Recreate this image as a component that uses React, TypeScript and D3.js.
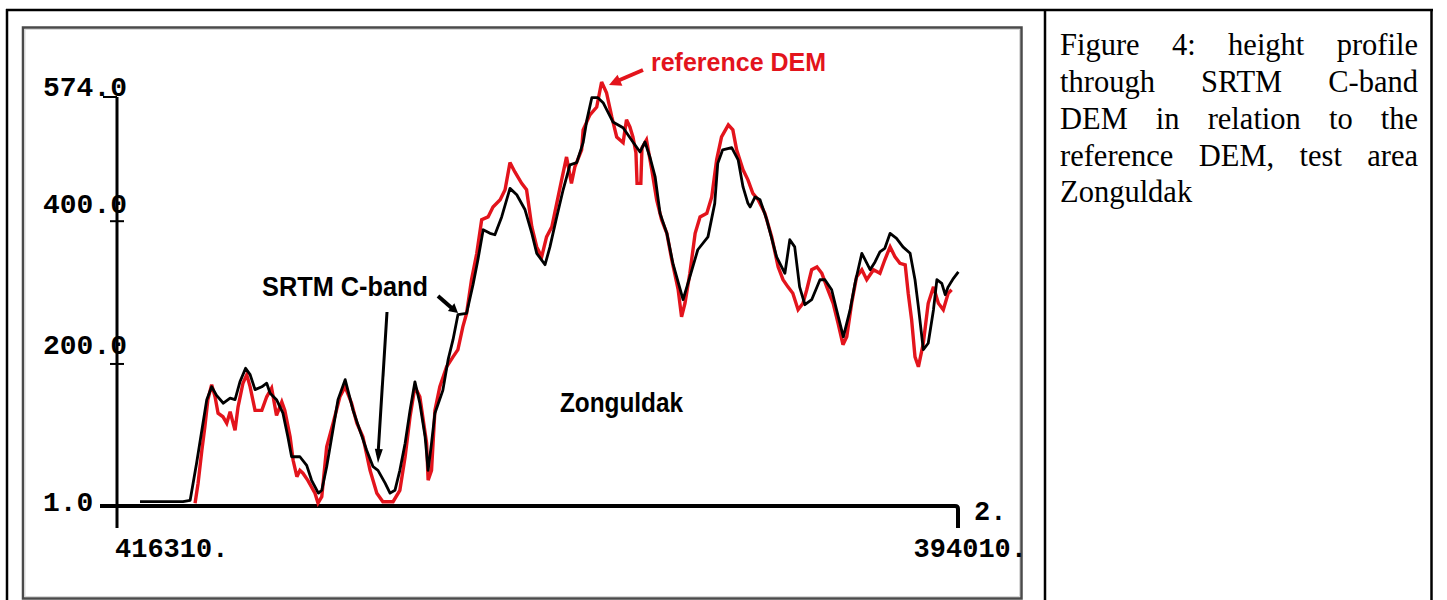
import React from "react";
import * as d3 from "d3";

// distance along profile (km) and height (m)
const srtmProfile: [number, number][] = [
  [0.61, 7], [1.75, 7], [1.94, 9], [2.11, 61], [2.25, 107], [2.38, 150], [2.51, 168], [2.64, 156], [2.82, 145],
  [3.0, 152], [3.13, 150], [3.26, 175], [3.41, 194], [3.53, 185], [3.66, 164], [3.84, 168], [3.97, 173], [4.06, 159],
  [4.23, 150], [4.4, 131], [4.53, 98], [4.63, 70], [4.85, 70], [5.03, 58], [5.16, 37], [5.34, 19], [5.43, 23],
  [5.56, 56], [5.74, 112], [5.86, 150], [6.05, 178], [6.26, 135], [6.44, 107], [6.62, 79], [6.79, 56], [6.92, 51],
  [7.11, 33], [7.24, 19], [7.37, 23], [7.5, 51], [7.64, 89], [7.77, 135], [7.9, 175], [8.03, 145], [8.17, 98],
  [8.25, 51], [8.34, 89], [8.43, 131], [8.64, 163], [8.78, 206], [8.91, 234], [9.04, 269], [9.27, 271], [9.44, 311],
  [9.57, 346], [9.71, 388], [9.89, 383], [10.02, 381], [10.2, 406], [10.42, 446], [10.6, 437], [10.82, 416],
  [11.0, 383], [11.13, 355], [11.35, 339], [11.48, 364], [11.66, 406], [11.83, 444], [12.01, 479], [12.19, 482],
  [12.36, 510], [12.46, 542], [12.59, 573], [12.75, 573], [12.89, 566], [13.15, 539], [13.42, 531], [13.68, 511],
  [13.87, 497], [14.0, 511], [14.13, 490], [14.27, 462], [14.4, 411], [14.58, 383], [14.74, 341], [15.01, 290],
  [15.19, 322], [15.4, 360], [15.67, 378], [15.85, 425], [15.93, 481], [16.06, 500], [16.3, 503], [16.47, 486],
  [16.6, 448], [16.73, 425], [16.79, 420], [16.92, 434], [17.05, 430], [17.23, 402], [17.49, 350], [17.71, 327],
  [17.84, 374], [17.97, 364], [18.1, 308], [18.24, 283], [18.42, 290], [18.64, 318], [18.77, 318], [18.95, 304],
  [19.08, 276], [19.26, 238], [19.44, 276], [19.57, 313], [19.75, 355], [19.97, 332], [20.1, 343], [20.23, 357],
  [20.36, 362], [20.5, 383], [20.67, 376], [20.84, 364], [21.03, 355], [21.16, 318], [21.25, 280], [21.38, 220],
  [21.51, 229], [21.65, 276], [21.74, 318], [21.87, 313], [21.96, 297], [22.04, 308], [22.18, 320], [22.31, 329],
];

const referenceProfile: [number, number][] = [
  [2.07, 5], [2.15, 33], [2.25, 79], [2.33, 112], [2.41, 150], [2.51, 171], [2.6, 154], [2.68, 131], [2.81, 126],
  [2.91, 117], [3.0, 133], [3.13, 107], [3.21, 140], [3.34, 173], [3.44, 185], [3.53, 168], [3.66, 135], [3.84, 135],
  [3.97, 154], [4.1, 166], [4.23, 128], [4.37, 147], [4.45, 135], [4.59, 98], [4.67, 65], [4.77, 42], [4.85, 51],
  [4.93, 47], [5.06, 37], [5.25, 19], [5.33, 5], [5.43, 14], [5.56, 84], [5.73, 117], [5.91, 154], [6.05, 168],
  [6.22, 145], [6.36, 117], [6.52, 98], [6.71, 51], [6.89, 19], [7.05, 7], [7.32, 7], [7.5, 23], [7.64, 70],
  [7.77, 126], [7.9, 168], [8.03, 154], [8.21, 89], [8.25, 37], [8.34, 51], [8.43, 135], [8.56, 168], [8.74, 196],
  [8.91, 210], [9.04, 220], [9.17, 252], [9.27, 271], [9.4, 318], [9.54, 355], [9.67, 402], [9.84, 406], [9.97, 420],
  [10.16, 430], [10.29, 444], [10.42, 482], [10.55, 469], [10.73, 453], [10.86, 444], [11.0, 392], [11.13, 364],
  [11.26, 350], [11.39, 378], [11.53, 392], [11.66, 425], [11.79, 458], [11.92, 490], [12.05, 453], [12.14, 476],
  [12.32, 500], [12.36, 528], [12.54, 549], [12.72, 560], [12.85, 595], [12.98, 580], [13.12, 546], [13.25, 518],
  [13.42, 510], [13.51, 542], [13.6, 532], [13.68, 518], [13.76, 496], [13.79, 453], [13.89, 453], [13.92, 503],
  [14.04, 514], [14.18, 472], [14.31, 430], [14.44, 402], [14.58, 383], [14.71, 346], [14.88, 304], [14.97, 266],
  [15.06, 285], [15.19, 327], [15.33, 383], [15.46, 406], [15.64, 411], [15.77, 434], [15.9, 486], [16.03, 518],
  [16.21, 535], [16.33, 528], [16.43, 500], [16.6, 472], [16.73, 458], [16.86, 439], [17.0, 430], [17.18, 411],
  [17.36, 378], [17.53, 336], [17.66, 318], [17.79, 308], [17.92, 299], [18.06, 276], [18.19, 285], [18.29, 304],
  [18.42, 332], [18.56, 336], [18.69, 327], [18.82, 308], [18.99, 285], [19.12, 257], [19.25, 227], [19.35, 238],
  [19.48, 285], [19.61, 322], [19.75, 332], [19.88, 318], [20.06, 332], [20.23, 327], [20.36, 346], [20.5, 364],
  [20.63, 350], [20.76, 341], [20.9, 339], [20.98, 299], [21.07, 262], [21.16, 210], [21.25, 196], [21.38, 229],
  [21.51, 285], [21.65, 308], [21.78, 285], [21.91, 276], [22.04, 299], [22.13, 304],
];

const yTicks = [1, 200, 400, 574];
const xEastings = [416310, 394010];
const xEndLabel = "2.";
const captionLines = [
  "Figure 4: height profile",
  "through SRTM C-band",
  "DEM in relation to the",
  "reference DEM, test area",
  "Zonguldak",
];

const RED = "#e3141c";

function arrowHead(x1: number, y1: number, x2: number, y2: number, len: number, half: number) {
  const a = Math.atan2(y2 - y1, x2 - x1);
  const bx = x2 - len * Math.cos(a);
  const by = y2 - len * Math.sin(a);
  const px = -Math.sin(a) * half;
  const py = Math.cos(a) * half;
  return `M${x2},${y2}L${bx + px},${by + py}L${bx - px},${by - py}Z`;
}

export default function App() {
  const startEasting = xEastings[0];
  const kmOf = (e: number) => (startEasting - e) / 1000;
  const x = d3.scaleLinear().domain([0, kmOf(xEastings[1])]).range([117, 958]);
  const y = d3.scaleLinear().domain([1, 574]).range([506, 97]);

  const lineLin = d3.line<[number, number]>().x((d) => x(d[0])).y((d) => y(d[1]));

  const x0 = x(0);
  const xEnd = x(kmOf(xEastings[1]));
  const yBase = y(1);

  const mono = "'Liberation Mono', 'DejaVu Sans Mono', monospace";
  const sans = "'Liberation Sans', Arial, sans-serif";

  const yLabelDy: Record<number, number> = { 1: 5, 200: -10, 400: -8, 574: -1 };

  // annotations
  const redTip: [number, number] = [609, 85];
  const redTail: [number, number] = [643, 70];
  const b1Tail: [number, number] = [387, 312];
  const b1Tip: [number, number] = [378, 463];
  const b2Tail: [number, number] = [438, 296];
  const b2Tip: [number, number] = [458, 313];

  return (
    <div style={{ position: "absolute", left: 0, top: 0, width: 1447, height: 600, background: "#fff", overflow: "hidden" }}>
      <svg width={1447} height={600} style={{ position: "absolute", left: 0, top: 0 }}>
        {/* table borders */}
        <line x1={6} x2={1433} y1={10} y2={10} stroke="#000" strokeWidth={2.5} />
        <line x1={7} x2={7} y1={9} y2={600} stroke="#000" strokeWidth={2.5} />
        <line x1={1045} x2={1045} y1={9} y2={600} stroke="#000" strokeWidth={2.5} />
        <line x1={1431.5} x2={1431.5} y1={9} y2={600} stroke="#000" strokeWidth={2.5} />
        {/* image frame */}
        <rect x={23} y={27.5} width={998.5} height={571} fill="none" stroke="#4a4a4a" strokeWidth={2.5} />
        <rect x={25} y={29.5} width={994.5} height={567} fill="none" stroke="#d8d8d8" strokeWidth={1} />

        {/* y axis */}
        <line x1={x0} x2={x0} y1={y(574)} y2={yBase + 22} stroke="#000" strokeWidth={3} />
        {yTicks.map((t) =>
          t === 1 ? null : (
            <line key={"tk" + t} x1={t === 574 ? x0 - 14 : x0 - 7} x2={t === 574 ? x0 : x0 + 7} y1={y(t)} y2={y(t)} stroke="#000" strokeWidth={2} />
          )
        )}
        {yTicks.map((t) => (
          <text
            key={"yl" + t}
            x={43}
            y={y(t) + yLabelDy[t]}
            fontFamily={mono}
            fontWeight="bold"
            fontSize={28}
            fill="#000"
          >
            {t.toFixed(1)}
          </text>
        ))}

        {/* x axis */}
        <path
          d={`M${x0 - 17},${yBase}L${xEnd - 3},${yBase}Q${xEnd},${yBase} ${xEnd},${yBase + 3}L${xEnd},${yBase + 22}`}
          fill="none"
          stroke="#000"
          strokeWidth={4}
        />
        <text x={x0 - 2} y={557} fontFamily={mono} fontWeight="bold" fontSize={27} fill="#000">
          {xEastings[0] + "."}
        </text>
        <text x={xEnd + 69} y={557} textAnchor="end" fontFamily={mono} fontWeight="bold" fontSize={27} fill="#000">
          {xEastings[1] + "."}
        </text>
        <text x={xEnd + 16} y={yBase + 14} fontFamily={mono} fontWeight="bold" fontSize={27} fill="#000">
          {xEndLabel}
        </text>

        {/* profiles */}
        <path d={lineLin(referenceProfile) || ""} fill="none" stroke={RED} strokeWidth={3.4} strokeLinejoin="miter" strokeMiterlimit={3} />
        <path d={lineLin(srtmProfile) || ""} fill="none" stroke="#000" strokeWidth={2.8} strokeLinejoin="round" />

        {/* annotations */}
        <text x={651} y={71} fontFamily={sans} fontWeight="bold" fontSize={26} fill={RED} textLength={175} lengthAdjust="spacingAndGlyphs">
          reference DEM
        </text>
        <line x1={redTail[0]} y1={redTail[1]} x2={redTip[0] + 6} y2={redTip[1] - 3} stroke={RED} strokeWidth={4} />
        <path d={arrowHead(redTail[0], redTail[1], redTip[0], redTip[1], 12, 6)} fill={RED} />

        <text x={262} y={296} fontFamily={sans} fontWeight="bold" fontSize={27} fill="#000" textLength={166} lengthAdjust="spacingAndGlyphs">
          SRTM C-band
        </text>
        <line x1={b1Tail[0]} y1={b1Tail[1]} x2={b1Tip[0]} y2={b1Tip[1] - 8} stroke="#000" strokeWidth={3} />
        <path d={arrowHead(b1Tail[0], b1Tail[1], b1Tip[0], b1Tip[1], 14, 4)} fill="#000" />
        <line x1={b2Tail[0]} y1={b2Tail[1]} x2={b2Tip[0] - 4} y2={b2Tip[1] - 3} stroke="#000" strokeWidth={4} />
        <path d={arrowHead(b2Tail[0], b2Tail[1], b2Tip[0], b2Tip[1], 9, 5)} fill="#000" />

        <text x={560} y={412} fontFamily={sans} fontWeight="bold" fontSize={27} fill="#000" textLength={123} lengthAdjust="spacingAndGlyphs">
          Zonguldak
        </text>
      </svg>

      {/* caption */}
      <div
        style={{
          position: "absolute",
          left: 1060,
          top: 27.3,
          width: 358,
          fontFamily: "'Liberation Serif', 'Times New Roman', serif",
          fontSize: "30.5px",
          lineHeight: "36.8px",
          color: "#000",
        }}
      >
        {captionLines.map((l, i) => (
          <div
            key={i}
            style={{
              textAlign: "justify",
              textAlignLast: i === captionLines.length - 1 ? "left" : "justify",
              whiteSpace: "nowrap",
            }}
          >
            {l}
          </div>
        ))}
      </div>
    </div>
  );
}
